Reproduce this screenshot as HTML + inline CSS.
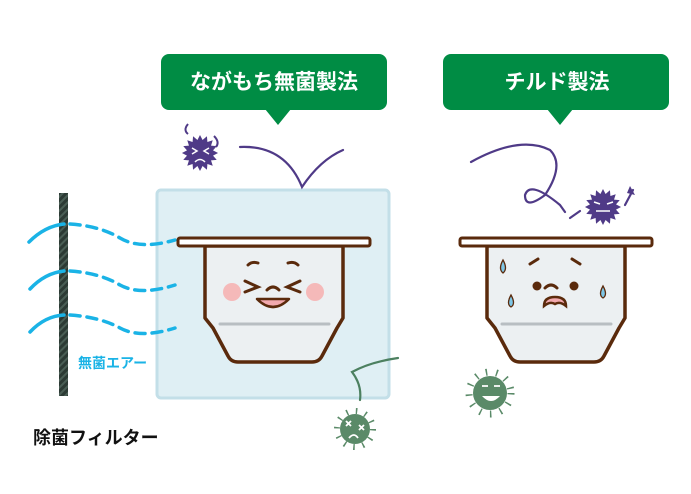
<!DOCTYPE html>
<html><head><meta charset="utf-8"><style>
html,body{margin:0;padding:0;background:#fff}
svg{display:block}
text{font-family:"Liberation Sans","Noto Sans CJK JP",sans-serif}
</style></head><body>
<svg width="691" height="494" viewBox="0 0 691 494" xmlns="http://www.w3.org/2000/svg">
<defs>
<pattern id="hatch" width="5" height="5" patternUnits="userSpaceOnUse" patternTransform="rotate(45)">
<rect width="5" height="5" fill="#2c3a34"/><rect width="2" height="5" fill="#4a5e55"/>
</pattern>
<polygon id="star" points="19,0 13.7,2.7 17.6,7.3 11.6,7.8 13.4,13.4 7.8,11.6 7.3,17.6 2.7,13.7 0,19 -2.7,13.7 -7.3,17.6 -7.8,11.6 -13.4,13.4 -11.6,7.8 -17.6,7.3 -13.7,2.7 -19,0 -13.7,-2.7 -17.6,-7.3 -11.6,-7.8 -13.4,-13.4 -7.8,-11.6 -7.3,-17.6 -2.7,-13.7 0,-19 2.7,-13.7 7.3,-17.6 7.8,-11.6 13.4,-13.4 11.6,-7.8 17.6,-7.3 13.7,-2.7"/>
<g id="cup">
<path d="M205 246 V318 L213 328 L228 356 Q231 362 238 362 H312 Q319 362 322 356 L337 328 L343 318 V246 Z" fill="#ecf0f2" stroke="#5a2a0c" stroke-width="3.5" stroke-linejoin="round"/>
<rect x="178" y="238" width="192" height="8" rx="2" fill="#fff" stroke="#5a2a0c" stroke-width="3"/>
<line x1="220" y1="324" x2="329" y2="324" stroke="#b8bec2" stroke-width="3" stroke-linecap="round"/>
</g>
</defs>

<rect x="161" y="54" width="226" height="56" rx="8" fill="#008c44"/>
<path d="M265 109 L278 125 L291 109 Z" fill="#008c44"/>
<text x="274" y="89" font-size="21" font-weight="bold" fill="#fff" text-anchor="middle">ながもち無菌製法</text>
<rect x="443" y="54" width="226" height="56" rx="8" fill="#008c44"/>
<path d="M547 109 L560 125 L573 109 Z" fill="#008c44"/>
<text x="557" y="89" font-size="21" font-weight="bold" fill="#fff" text-anchor="middle">チルド製法</text>

<rect x="157" y="190" width="232" height="208" rx="4" fill="#dfeff4" stroke="#c3dfe8" stroke-width="3"/>

<rect x="59" y="193" width="9" height="203" fill="url(#hatch)"/>

<g fill="none" stroke="#1ab3e6" stroke-width="3.5" stroke-linecap="round">
<path d="M29 242 Q45 226 64 224"/>
<path d="M70 224 Q100 226 120 238 Q140 250 175 240" stroke-dasharray="10 7"/>
<path d="M30 289 Q45 273 64 271"/>
<path d="M70 271 Q100 273 120 285 Q140 296 175 285" stroke-dasharray="10 7"/>
<path d="M30 332 Q45 316 64 315"/>
<path d="M70 315 Q100 317 120 328 Q140 339 175 328" stroke-dasharray="10 7"/>
</g>
<text x="78" y="368" font-size="14" font-weight="bold" fill="#1ab3e6">無菌エアー</text>
<text x="33" y="444" font-size="18" font-weight="bold" fill="#111">除菌フィルター</text>

<use href="#cup"/>
<g stroke="#5a2a0c" stroke-width="3" fill="none" stroke-linecap="round">
<path d="M248 265 Q252 261 258 263"/><path d="M288 263 Q294 261 298 265"/>
<path d="M245 281 L258 287 L245 292"/><path d="M300 281 L287 287 L300 292"/>
<path d="M267 290 Q273 284 279 290"/>
</g>
<path d="M257 299 Q273 315 289 299 Z" fill="#f2a9ae" stroke="#5a2a0c" stroke-width="2.5" stroke-linejoin="round"/>
<circle cx="232" cy="292" r="9" fill="#f5b9b9"/>
<circle cx="315" cy="292" r="9" fill="#f5b9b9"/>

<use href="#cup" transform="translate(282 0)"/>
<g stroke="#5a2a0c" stroke-width="3" fill="none" stroke-linecap="round">
<path d="M530 264 L538 259"/><path d="M572 259 L580 264"/>
<path d="M545 288 Q551 282 557 288"/>
</g>
<circle cx="537" cy="286" r="4.5" fill="#5a2a0c"/><circle cx="574" cy="286" r="4.5" fill="#5a2a0c"/>
<path d="M544 306 Q544 297 555 297 Q566 297 566 306 Q560 301 555 304 Q550 301 544 306 Z" fill="#f2a9ae" stroke="#5a2a0c" stroke-width="2.5"/>
<g fill="#7ec6e6" stroke="#5a2a0c" stroke-width="1.3">
<path d="M503 260 Q498 269 503 273 Q508 269 503 260Z"/>
<path d="M511 295 Q506 304 511 307 Q516 304 511 295Z"/>
<path d="M603 286 Q598 295 603 298 Q608 295 603 286Z"/>
</g>

<g fill="none" stroke="#4f3a87" stroke-width="2.2" stroke-linecap="round">
<path d="M240 147 Q285 145 302 187 Q320 160 343 150"/>
<path d="M471 162 Q520 135 550 150 Q565 165 545 195 Q525 210 525 195 Q530 180 560 205 L565 212"/>
<path d="M570 218 L580 211"/>
<path d="M625 205 L633 190"/>
</g>
<g fill="#4f3a87">
<use href="#star" transform="translate(200 153) scale(0.95)"/>
<use href="#star" transform="translate(603 207) scale(0.95)"/>
<path d="M630 186 L635 195 L627 193 Z"/>
</g>
<path d="M188 124 Q183 130 188 134 M214 136 Q220 142 216 147" stroke="#4f3a87" stroke-width="2" fill="none"/>
<g stroke="#fff" stroke-width="1.5" fill="none">
<path d="M192 148 L197 151 L192 154"/><path d="M209 148 L204 151 L209 154"/><path d="M195 162 Q200 157 205 162"/>
<path d="M594 202 L600 204"/><path d="M613 202 L607 204"/><path d="M596 211 H610"/>
</g>

<path d="M398 358 Q370 362 352 372 Q362 385 360 400" fill="none" stroke="#4c8060" stroke-width="2.2" stroke-linecap="round"/>
<g fill="#5a8a68">
<circle cx="355" cy="429" r="15"/>
<circle cx="355" cy="429" r="18" fill="none" stroke="#5a8a68" stroke-width="6" stroke-dasharray="1.5 8"/>
<circle cx="490" cy="393" r="17"/>
<circle cx="490" cy="393" r="21" fill="none" stroke="#5a8a68" stroke-width="7" stroke-dasharray="1.5 9"/>
</g>
<g stroke="#fff" stroke-width="1.8" fill="none">
<path d="M346 421 L351 426 M351 421 L346 426 M359 425 L364 430 M364 425 L359 430 M349 438 Q354 432 358 438"/>
<path d="M482 386 H488 M494 386 H500"/>
</g>
<path d="M482 396 Q491 406 500 396 Z" fill="#fff"/>
</svg>
</body></html>
